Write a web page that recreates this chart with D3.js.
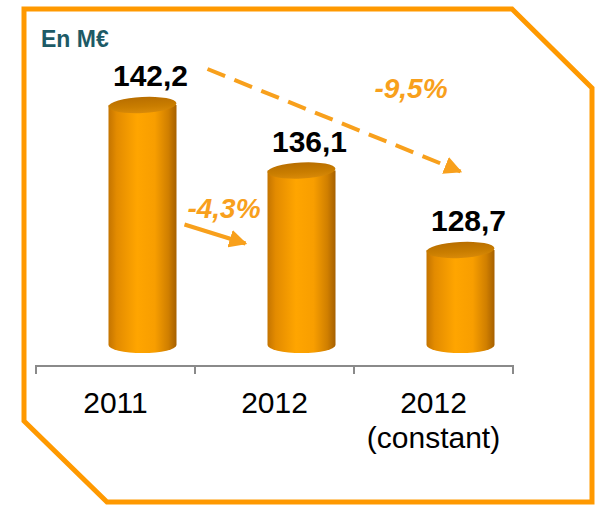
<!DOCTYPE html>
<html><head><meta charset="utf-8">
<script src="https://cdn.jsdelivr.net/npm/d3@7"></script>
<style>body{margin:0;background:#fff}svg{display:block}</style>
</head><body>
<script>
const categories = ["2011", "2012", "2012 (constant)"];
const categoryLines = [["2011"], ["2012"], ["2012", "(constant)"]];
const values = [142.2, 136.1, 128.7];
const valueLabels = ["142,2", "136,1", "128,7"];
const changeLabels = ["-4,3%", "-9,5%"];
const unitLabel = "En M€";

const W = 595, H = 505;
const svg = d3.select("body").append("svg").attr("width", W).attr("height", H);
const orange = "#ff9900";
const arrowOrange = "#f8a01c";
const FONT = "Liberation Sans, Arial, sans-serif";

// frame with cut corners
svg.append("path")
  .attr("d", "M24,9 L512,9 L592,88 L592,502 L107,502 L24,421 Z")
  .attr("fill", "none").attr("stroke", orange).attr("stroke-width", 5).attr("stroke-linejoin", "miter");

svg.append("text").attr("x", 41).attr("y", 47).text(unitLabel)
  .attr("font-family", FONT).attr("font-weight", "bold")
  .attr("font-size", 23).attr("fill", "#1d5a66");

const x = d3.scaleBand().domain(categories).range([36, 513]).paddingInner(0).paddingOuter(0);
const y = d3.scaleLinear().domain([119.85, 142.2]).range([345, 105]);
const axisY = 366;
const depthShift = 27; // 3D perspective offset of bars
const barW = 68, ry = 8;

// axis
const axis = d3.axisBottom(x).tickSize(0).tickFormat("");
const gAxis = svg.append("g").attr("transform", `translate(0,${axisY})`).call(axis);
gAxis.select(".domain").attr("stroke", "#8a8a8a").attr("stroke-width", 2).attr("d", `M36,0H513`);
const bounds = [...categories.map(c => x(c)), x(categories[categories.length-1]) + x.bandwidth()];
gAxis.selectAll("line.tk").data(bounds).join("line").attr("class","tk")
  .attr("x1", d => d).attr("x2", d => d).attr("y1", -1).attr("y2", 8)
  .attr("stroke", "#8a8a8a").attr("stroke-width", 2);

// category labels
const lbl = svg.append("g").attr("font-family", FONT)
  .attr("font-size", 30).attr("fill", "#000").attr("text-anchor", "middle");
categories.forEach((c, i) => {
  categoryLines[i].forEach((line, j) => {
    lbl.append("text").attr("x", x(c) + x.bandwidth()/2).attr("y", 413 + j*35).text(line);
  });
});

// gradients
const defs = svg.append("defs");
const gBody = defs.append("linearGradient").attr("id", "body").attr("x1", "0").attr("x2", "1").attr("y1", "0").attr("y2", "0");
[[0,"#c47400"],[0.12,"#e38b00"],[0.42,"#ffa500"],[0.68,"#f89e00"],[0.88,"#d07f00"],[1,"#a66000"]]
  .forEach(([o,c]) => gBody.append("stop").attr("offset", o).attr("stop-color", c));
const gTop = defs.append("linearGradient").attr("id", "top").attr("x1", "0").attr("x2", "0").attr("y1", "0").attr("y2", "1");
[[0,"#b86e00"],[0.6,"#c97d00"],[1,"#d98a08"]]
  .forEach(([o,c]) => gTop.append("stop").attr("offset", o).attr("stop-color", c));

// bars (cylinders)
const bars = svg.append("g");
values.forEach((v, i) => {
  const cx = x(categories[i]) + x.bandwidth()/2 + depthShift;
  const l = cx - barW/2, r = cx + barW/2;
  const yt = y(v), yb = y.range()[0];
  bars.append("path")
    .attr("d", `M${l},${yt} L${l},${yb} A${barW/2},${ry} 0 0 0 ${r},${yb} L${r},${yt} Z`)
    .attr("fill", "url(#body)");
  bars.append("ellipse").attr("cx", cx).attr("cy", yt).attr("rx", barW/2).attr("ry", ry)
    .attr("transform", `rotate(-3,${cx},${yt})`)
    .attr("fill", "url(#top)");
  svg.append("text").attr("x", cx + 8).attr("y", yt - 19).text(valueLabels[i])
    .attr("text-anchor", "middle").attr("font-family", FONT)
    .attr("font-weight", "bold").attr("font-size", 30).attr("fill", "#000");
});

// arrows
defs.append("marker").attr("id", "ah").attr("viewBox", "0 0 10 10").attr("refX", 9).attr("refY", 5)
  .attr("markerWidth", 4.5).attr("markerHeight", 4.5).attr("orient", "auto").attr("markerUnits", "strokeWidth")
  .append("path").attr("d", "M0,0 L10,5 L0,10 Z").attr("fill", arrowOrange);

const c0 = x(categories[0]) + x.bandwidth()/2 + depthShift;
const c1 = x(categories[1]) + x.bandwidth()/2 + depthShift;
const c2 = x(categories[2]) + x.bandwidth()/2 + depthShift;

// solid arrow 2011 -> 2012
svg.append("line")
  .attr("x1", c0 + barW/2 + 8).attr("y1", y(values[1]) + 54)
  .attr("x2", c1 - barW/2 - 22).attr("y2", y(values[1]) + 73)
  .attr("stroke", arrowOrange).attr("stroke-width", 4).attr("marker-end", "url(#ah)");
svg.append("text").attr("x", (c0 + c1)/2 + 2).attr("y", y(values[1]) + 47).text(changeLabels[0])
  .attr("text-anchor", "middle").attr("font-family", FONT)
  .attr("font-weight", "bold").attr("font-style", "italic").attr("font-size", 28).attr("fill", arrowOrange);

// dashed arrow 2011 -> 2012 constant
svg.append("line")
  .attr("x1", c0 + 65).attr("y1", y(values[0]) - 36)
  .attr("x2", c2).attr("y2", y(values[1]) + 1)
  .attr("stroke", arrowOrange).attr("stroke-width", 4).attr("stroke-dasharray", "19,10")
  .attr("marker-end", "url(#ah)");
svg.append("text").attr("x", 411).attr("y", y(values[0]) - 7).text(changeLabels[1])
  .attr("text-anchor", "middle").attr("font-family", FONT)
  .attr("font-weight", "bold").attr("font-style", "italic").attr("font-size", 28).attr("fill", arrowOrange);
</script>
</body></html>
